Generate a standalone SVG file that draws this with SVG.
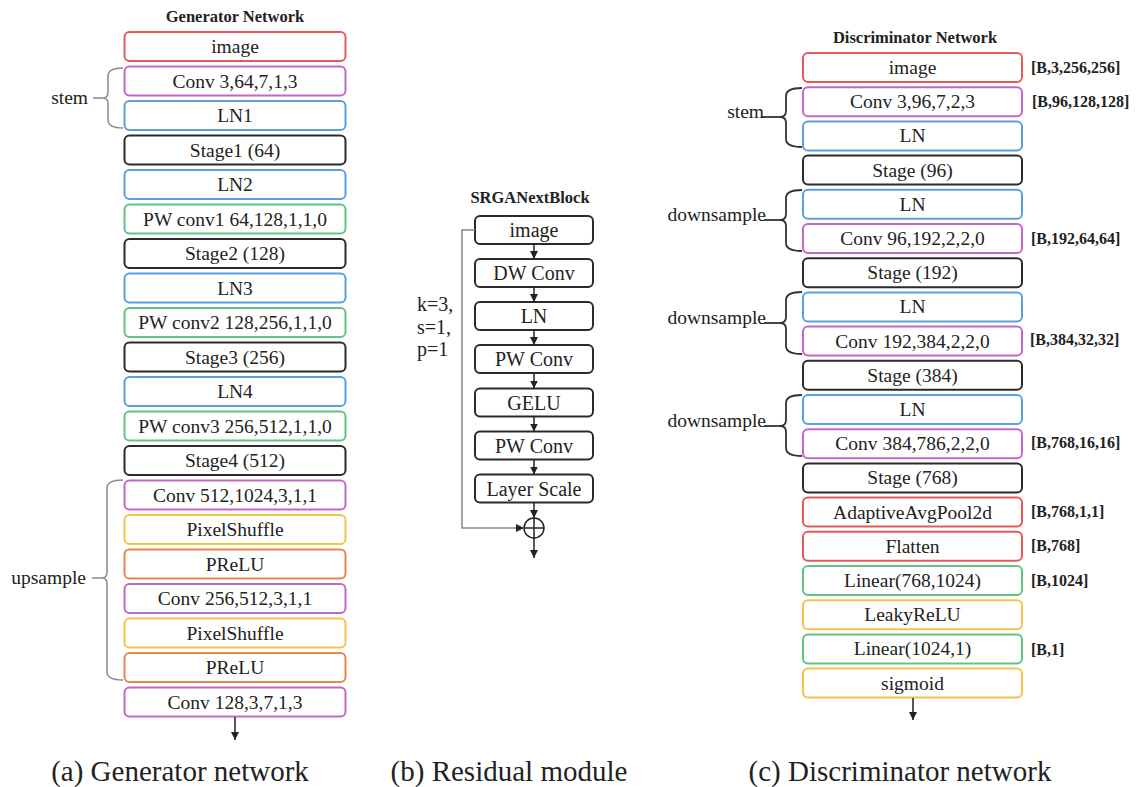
<svg xmlns="http://www.w3.org/2000/svg" width="1136" height="787" viewBox="0 0 1136 787">
<style>
  .t { font-size: 19.5px; text-anchor: middle; fill: #222; }
  .tm { font-size: 20px; text-anchor: middle; fill: #222; }
  .title { font-size: 16.5px; font-weight: bold; text-anchor: middle; fill: #222; }
  .dim { font-size: 16px; font-weight: bold; fill: #222; }
  .lbl { font-size: 19.5px; text-anchor: end; fill: #222; }
  .cap { font-size: 29px; text-anchor: middle; fill: #222; }
  .par { font-size: 20px; fill: #222; }
  rect { fill: #fff; stroke-width: 2; }
  .red { stroke: #e8585a; }
  .pur { stroke: #c466c6; }
  .blu { stroke: #5b9fdc; }
  .blk { stroke: #2a2a2a; }
  .grn { stroke: #62c389; }
  .yel { stroke: #f4c445; }
  .org { stroke: #e8864e; }
  .gbrace { fill: none; stroke: #8a8a8a; stroke-width: 1.5; }
  .dbrace { fill: none; stroke: #333; stroke-width: 1.8; }
  .arr { fill: none; stroke: #222; stroke-width: 1.5; }
  .skip { fill: none; stroke: #888; stroke-width: 1.5; }
</style>
<defs>
  <marker id="ah" markerUnits="userSpaceOnUse" markerWidth="10" markerHeight="10" refX="8" refY="4" orient="auto">
    <path d="M0,0 L8,4 L0,8 Z" fill="#222"/>
  </marker>
</defs>

<!-- Titles -->
<text font-family="Liberation Serif" class="title" x="235" y="22">Generator Network</text>
<text font-family="Liberation Serif" class="title" x="530" y="203">SRGANextBlock</text>
<text font-family="Liberation Serif" class="title" x="915" y="43">Discriminator Network</text>

<!-- Generator network -->
<g id="gen">
  <g id="g0"><rect class="red" x="124.5" y="32" width="221" height="29" rx="5"/><text font-family="Liberation Serif" class="t" x="235" y="53">image</text></g>
  <g id="g1"><rect class="pur" x="124.5" y="66.5" width="221" height="29" rx="5"/><text font-family="Liberation Serif" class="t" x="235" y="87.5">Conv 3,64,7,1,3</text></g>
  <g id="g2"><rect class="blu" x="124.5" y="101" width="221" height="29" rx="5"/><text font-family="Liberation Serif" class="t" x="235" y="122">LN1</text></g>
  <g id="g3"><rect class="blk" x="124.5" y="135.5" width="221" height="29" rx="5"/><text font-family="Liberation Serif" class="t" x="235" y="156.5">Stage1 (64)</text></g>
  <g id="g4"><rect class="blu" x="124.5" y="170" width="221" height="29" rx="5"/><text font-family="Liberation Serif" class="t" x="235" y="191">LN2</text></g>
  <g id="g5"><rect class="grn" x="124.5" y="204.5" width="221" height="29" rx="5"/><text font-family="Liberation Serif" class="t" x="235" y="225.5">PW conv1 64,128,1,1,0</text></g>
  <g id="g6"><rect class="blk" x="124.5" y="239" width="221" height="29" rx="5"/><text font-family="Liberation Serif" class="t" x="235" y="260">Stage2 (128)</text></g>
  <g id="g7"><rect class="blu" x="124.5" y="273.5" width="221" height="29" rx="5"/><text font-family="Liberation Serif" class="t" x="235" y="294.5">LN3</text></g>
  <g id="g8"><rect class="grn" x="124.5" y="308" width="221" height="29" rx="5"/><text font-family="Liberation Serif" class="t" x="235" y="329">PW conv2 128,256,1,1,0</text></g>
  <g id="g9"><rect class="blk" x="124.5" y="342.5" width="221" height="29" rx="5"/><text font-family="Liberation Serif" class="t" x="235" y="363.5">Stage3 (256)</text></g>
  <g id="g10"><rect class="blu" x="124.5" y="377" width="221" height="29" rx="5"/><text font-family="Liberation Serif" class="t" x="235" y="398">LN4</text></g>
  <g id="g11"><rect class="grn" x="124.5" y="411.5" width="221" height="29" rx="5"/><text font-family="Liberation Serif" class="t" x="235" y="432.5">PW conv3 256,512,1,1,0</text></g>
  <g id="g12"><rect class="blk" x="124.5" y="446" width="221" height="29" rx="5"/><text font-family="Liberation Serif" class="t" x="235" y="467">Stage4 (512)</text></g>
  <g id="g13"><rect class="pur" x="124.5" y="480.5" width="221" height="29" rx="5"/><text font-family="Liberation Serif" class="t" x="235" y="501.5">Conv 512,1024,3,1,1</text></g>
  <g id="g14"><rect class="yel" x="124.5" y="515" width="221" height="29" rx="5"/><text font-family="Liberation Serif" class="t" x="235" y="536">PixelShuffle</text></g>
  <g id="g15"><rect class="org" x="124.5" y="549.5" width="221" height="29" rx="5"/><text font-family="Liberation Serif" class="t" x="235" y="570.5">PReLU</text></g>
  <g id="g16"><rect class="pur" x="124.5" y="584" width="221" height="29" rx="5"/><text font-family="Liberation Serif" class="t" x="235" y="605">Conv 256,512,3,1,1</text></g>
  <g id="g17"><rect class="yel" x="124.5" y="618.5" width="221" height="29" rx="5"/><text font-family="Liberation Serif" class="t" x="235" y="639.5">PixelShuffle</text></g>
  <g id="g18"><rect class="org" x="124.5" y="653" width="221" height="29" rx="5"/><text font-family="Liberation Serif" class="t" x="235" y="674">PReLU</text></g>
  <g id="g19"><rect class="pur" x="124.5" y="687.5" width="221" height="29" rx="5"/><text font-family="Liberation Serif" class="t" x="235" y="708.5">Conv 128,3,7,1,3</text></g>
  <g id="g-stem">
    <path class="gbrace" d="M123,68 Q108,68 108,76 L108,92 Q108,98 103,98 Q108,98 108,104 L108,120 Q108,128 123,128"/>
    <line class="gbrace" x1="93" y1="98" x2="103" y2="98"/>
    <text font-family="Liberation Serif" class="lbl" x="88" y="104">stem</text>
  </g>
  <g id="g-upsample">
    <path class="gbrace" d="M123,480 Q107,480 107,488 L107,572 Q107,578 102,578 Q107,578 107,584 L107,672 Q107,680 123,680"/>
    <line class="gbrace" x1="92" y1="578" x2="102" y2="578"/>
    <text font-family="Liberation Serif" class="lbl" x="86" y="584">upsample</text>
  </g>
</g>

<!-- Residual module -->
<g id="res">
  <g id="r0"><rect class="blk" x="475" y="216" width="118" height="28" rx="5"/><text font-family="Liberation Serif" class="tm" x="534" y="237">image</text></g>
  <g id="r1"><rect class="blk" x="475" y="259" width="118" height="28" rx="5"/><text font-family="Liberation Serif" class="tm" x="534" y="280">DW Conv</text></g>
  <g id="r2"><rect class="blk" x="475" y="302" width="118" height="28" rx="5"/><text font-family="Liberation Serif" class="tm" x="534" y="323">LN</text></g>
  <g id="r3"><rect class="blk" x="475" y="345" width="118" height="28" rx="5"/><text font-family="Liberation Serif" class="tm" x="534" y="366">PW Conv</text></g>
  <g id="r4"><rect class="blk" x="475" y="388.5" width="118" height="28" rx="5"/><text font-family="Liberation Serif" class="tm" x="534" y="409.5">GELU</text></g>
  <g id="r5"><rect class="blk" x="475" y="431.5" width="118" height="28" rx="5"/><text font-family="Liberation Serif" class="tm" x="534" y="452.5">PW Conv</text></g>
  <g id="r6"><rect class="blk" x="475" y="474.5" width="118" height="28" rx="5"/><text font-family="Liberation Serif" class="tm" x="534" y="495.5">Layer Scale</text></g>
  <g id="r-add">
    <circle cx="534" cy="528" r="10" fill="none" stroke="#222" stroke-width="1.5"/>
    <line x1="524" y1="528" x2="544" y2="528" stroke="#222" stroke-width="1.5"/>
    <line x1="534" y1="518" x2="534" y2="538" stroke="#222" stroke-width="1.5"/>
  </g>
  <g id="r-params">
    <text font-family="Liberation Serif" class="par" x="417" y="311">k=3,</text>
    <text font-family="Liberation Serif" class="par" x="417" y="334">s=1,</text>
    <text font-family="Liberation Serif" class="par" x="417" y="356">p=1</text>
  </g>
</g>

<!-- Discriminator network -->
<g id="dis">
  <g id="d0"><rect class="red" x="803" y="53" width="219" height="29" rx="5"/><text font-family="Liberation Serif" class="t" x="912.5" y="74">image</text><text font-family="Liberation Serif" class="dim" x="1031" y="73">[B,3,256,256]</text></g>
  <g id="d1"><rect class="pur" x="803" y="87.2" width="219" height="29" rx="5"/><text font-family="Liberation Serif" class="t" x="912.5" y="108.2">Conv 3,96,7,2,3</text><text font-family="Liberation Serif" class="dim" x="1032" y="107">[B,96,128,128]</text></g>
  <g id="d2"><rect class="blu" x="803" y="121.4" width="219" height="29" rx="5"/><text font-family="Liberation Serif" class="t" x="912.5" y="142.4">LN</text></g>
  <g id="d3"><rect class="blk" x="803" y="155.6" width="219" height="29" rx="5"/><text font-family="Liberation Serif" class="t" x="912.5" y="176.6">Stage (96)</text></g>
  <g id="d4"><rect class="blu" x="803" y="189.8" width="219" height="29" rx="5"/><text font-family="Liberation Serif" class="t" x="912.5" y="210.8">LN</text></g>
  <g id="d5"><rect class="pur" x="803" y="224" width="219" height="29" rx="5"/><text font-family="Liberation Serif" class="t" x="912.5" y="245">Conv 96,192,2,2,0</text><text font-family="Liberation Serif" class="dim" x="1031" y="244">[B,192,64,64]</text></g>
  <g id="d6"><rect class="blk" x="803" y="258.2" width="219" height="29" rx="5"/><text font-family="Liberation Serif" class="t" x="912.5" y="279.2">Stage (192)</text></g>
  <g id="d7"><rect class="blu" x="803" y="292.4" width="219" height="29" rx="5"/><text font-family="Liberation Serif" class="t" x="912.5" y="313.4">LN</text></g>
  <g id="d8"><rect class="pur" x="803" y="326.6" width="219" height="29" rx="5"/><text font-family="Liberation Serif" class="t" x="912.5" y="347.6">Conv 192,384,2,2,0</text><text font-family="Liberation Serif" class="dim" x="1030" y="345">[B,384,32,32]</text></g>
  <g id="d9"><rect class="blk" x="803" y="360.8" width="219" height="29" rx="5"/><text font-family="Liberation Serif" class="t" x="912.5" y="381.8">Stage (384)</text></g>
  <g id="d10"><rect class="blu" x="803" y="395" width="219" height="29" rx="5"/><text font-family="Liberation Serif" class="t" x="912.5" y="416">LN</text></g>
  <g id="d11"><rect class="pur" x="803" y="429.2" width="219" height="29" rx="5"/><text font-family="Liberation Serif" class="t" x="912.5" y="450.2">Conv 384,786,2,2,0</text><text font-family="Liberation Serif" class="dim" x="1031" y="448">[B,768,16,16]</text></g>
  <g id="d12"><rect class="blk" x="803" y="463.4" width="219" height="29" rx="5"/><text font-family="Liberation Serif" class="t" x="912.5" y="484.4">Stage (768)</text></g>
  <g id="d13"><rect class="red" x="803" y="497.6" width="219" height="29" rx="5"/><text font-family="Liberation Serif" class="t" x="912.5" y="518.6">AdaptiveAvgPool2d</text><text font-family="Liberation Serif" class="dim" x="1031" y="517">[B,768,1,1]</text></g>
  <g id="d14"><rect class="red" x="803" y="531.8" width="219" height="29" rx="5"/><text font-family="Liberation Serif" class="t" x="912.5" y="552.8">Flatten</text><text font-family="Liberation Serif" class="dim" x="1031" y="551">[B,768]</text></g>
  <g id="d15"><rect class="grn" x="803" y="566" width="219" height="29" rx="5"/><text font-family="Liberation Serif" class="t" x="912.5" y="587">Linear(768,1024)</text><text font-family="Liberation Serif" class="dim" x="1031" y="586">[B,1024]</text></g>
  <g id="d16"><rect class="yel" x="803" y="600.2" width="219" height="29" rx="5"/><text font-family="Liberation Serif" class="t" x="912.5" y="621.2">LeakyReLU</text></g>
  <g id="d17"><rect class="grn" x="803" y="634.4" width="219" height="29" rx="5"/><text font-family="Liberation Serif" class="t" x="912.5" y="655.4">Linear(1024,1)</text><text font-family="Liberation Serif" class="dim" x="1031" y="655">[B,1]</text></g>
  <g id="d18"><rect class="yel" x="803" y="668.6" width="219" height="29" rx="5"/><text font-family="Liberation Serif" class="t" x="912.5" y="689.6">sigmoid</text></g>
  <g id="d-stem">
    <path class="dbrace" d="M802,88 Q786,88 786,96 L786,111 Q786,117 780,117 Q786,117 786,123 L786,139 Q786,147 802,147"/>
    <line class="dbrace" x1="762" y1="117" x2="780" y2="117"/>
    <text font-family="Liberation Serif" class="lbl" x="764" y="118">stem</text>
  </g>
  <g id="d-down1">
    <path class="dbrace" d="M802,190 Q786,190 786,198 L786,214 Q786,220 780,220 Q786,220 786,226 L786,243 Q786,251 802,251"/>
    <line class="dbrace" x1="764" y1="220" x2="780" y2="220"/>
    <text font-family="Liberation Serif" class="lbl" x="766" y="221">downsample</text>
  </g>
  <g id="d-down2">
    <path class="dbrace" d="M802,292 Q786,292 786,300 L786,317 Q786,323 780,323 Q786,323 786,329 L786,346 Q786,354 802,354"/>
    <line class="dbrace" x1="764" y1="323" x2="780" y2="323"/>
    <text font-family="Liberation Serif" class="lbl" x="766" y="324">downsample</text>
  </g>
  <g id="d-down3">
    <path class="dbrace" d="M802,395 Q786,395 786,403 L786,420 Q786,426 780,426 Q786,426 786,432 L786,448 Q786,456 802,456"/>
    <line class="dbrace" x1="764" y1="426" x2="780" y2="426"/>
    <text font-family="Liberation Serif" class="lbl" x="766" y="427">downsample</text>
  </g>
</g>

<!-- Connectors -->
<g id="connectors">
  <line class="arr" x1="235" y1="717" x2="235" y2="740" marker-end="url(#ah)"/>
  <line class="arr" x1="534" y1="244" x2="534" y2="259" marker-end="url(#ah)"/>
  <line class="arr" x1="534" y1="287" x2="534" y2="302" marker-end="url(#ah)"/>
  <line class="arr" x1="534" y1="330" x2="534" y2="345" marker-end="url(#ah)"/>
  <line class="arr" x1="534" y1="373" x2="534" y2="388.5" marker-end="url(#ah)"/>
  <line class="arr" x1="534" y1="416.5" x2="534" y2="431.5" marker-end="url(#ah)"/>
  <line class="arr" x1="534" y1="459.5" x2="534" y2="474.5" marker-end="url(#ah)"/>
  <line class="arr" x1="534" y1="502.5" x2="534" y2="518" marker-end="url(#ah)"/>
  <polyline class="skip" points="475,230 462,230 462,528 524,528" marker-end="url(#ah)"/>
  <line class="arr" x1="534" y1="538" x2="534" y2="558" marker-end="url(#ah)"/>
  <line class="arr" x1="913" y1="698" x2="913" y2="720" marker-end="url(#ah)"/>
</g>

<!-- Captions -->
<text font-family="Liberation Serif" class="cap" x="180" y="781">(a) Generator network</text>
<text font-family="Liberation Serif" class="cap" x="509" y="781">(b) Residual module</text>
<text font-family="Liberation Serif" class="cap" x="900" y="781">(c) Discriminator network</text>
</svg>
